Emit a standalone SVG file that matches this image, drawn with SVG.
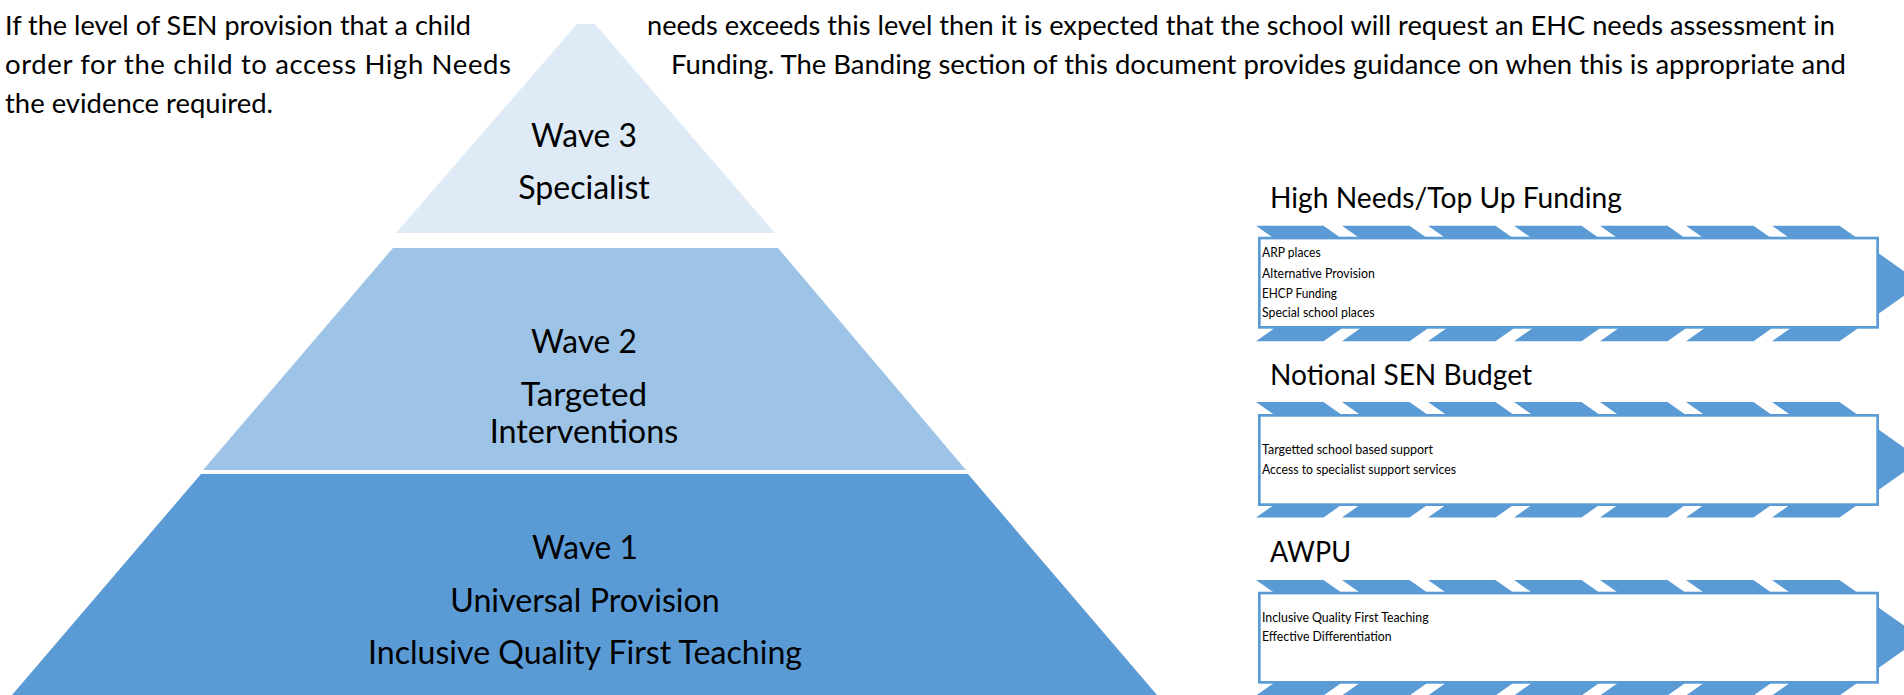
<svg xmlns="http://www.w3.org/2000/svg" xmlns:xlink="http://www.w3.org/1999/xlink" width="1904" height="695" viewBox="0 0 1904 695">
<style>
text { font-family: Lato, "Liberation Sans", sans-serif; fill: #000; }
.para { font-size: 27.5px; }
.wave { font-size: 32.3px; text-anchor: middle; }
.title { font-size: 29px; }
.item { font-size: 12.5px; }
.w3 { fill: #DEEBF7; }
.w2 { fill: #9DC3E6; }
.w1 { fill: #5B9BD5; }
.chev { fill: #5B9BD5; }
.box { fill: #FFFFFF; stroke: #5B9BD5; stroke-width: 2.7; }
</style>
<defs>
  <path id="chev" d="M0,0 h67.5 l82,57.75 l-82,57.75 h-67.5 l82,-57.75 z"/>
  <g id="stripes" class="chev">
    <use xlink:href="#chev" href="#chev" x="1256" y="0"/>
    <use xlink:href="#chev" href="#chev" x="1342" y="0"/>
    <use xlink:href="#chev" href="#chev" x="1428" y="0"/>
    <use xlink:href="#chev" href="#chev" x="1514" y="0"/>
    <use xlink:href="#chev" href="#chev" x="1600" y="0"/>
    <use xlink:href="#chev" href="#chev" x="1686" y="0"/>
    <use xlink:href="#chev" href="#chev" x="1772" y="0"/>
  </g>
</defs>
<rect width="1904" height="695" fill="#FFFFFF"/>

<g id="paragraph">
  <text class="para" x="5" y="35" textLength="466" lengthAdjust="spacingAndGlyphs">If the level of SEN provision that a child</text>
  <text class="para" x="5" y="74" textLength="506" lengthAdjust="spacing">order for the child to access High Needs</text>
  <text class="para" x="5" y="113" textLength="268" lengthAdjust="spacingAndGlyphs">the evidence required.</text>
  <text class="para" x="647" y="35" textLength="1188" lengthAdjust="spacingAndGlyphs">needs exceeds this level then it is expected that the school will request an EHC needs assessment in</text>
  <text class="para" x="671" y="74" textLength="1175" lengthAdjust="spacingAndGlyphs">Funding. The Banding section of this document provides guidance on when this is appropriate and</text>
</g>

<g id="wave3">
  <polygon class="w3" points="577,24 595,24 775,233 396,233"/>
  <text class="wave" x="584" y="147" textLength="105.8" lengthAdjust="spacingAndGlyphs">Wave 3</text>
  <text class="wave" x="584" y="199" textLength="131.6" lengthAdjust="spacingAndGlyphs">Specialist</text>
</g>

<g id="wave2">
  <polygon class="w2" points="393,248 778,248 966,470 203,470"/>
  <text class="wave" x="584" y="353" textLength="105.8" lengthAdjust="spacingAndGlyphs">Wave 2</text>
  <text class="wave" x="584" y="406" textLength="126.3" lengthAdjust="spacingAndGlyphs">Targeted</text>
  <text class="wave" x="584" y="443" textLength="188.6" lengthAdjust="spacingAndGlyphs">Interventions</text>
</g>

<g id="wave1">
  <polygon class="w1" points="201,474 968,474 1157,695 12,695"/>
  <text class="wave" x="585" y="559" textLength="105.8" lengthAdjust="spacingAndGlyphs">Wave 1</text>
  <text class="wave" x="585" y="612" textLength="269.6" lengthAdjust="spacingAndGlyphs">Universal Provision</text>
  <text class="wave" x="585" y="664" textLength="434" lengthAdjust="spacingAndGlyphs">Inclusive Quality First Teaching</text>
</g>

<g id="high-needs">
  <text class="title" x="1270" y="208" textLength="352" lengthAdjust="spacingAndGlyphs">High Needs/Top Up Funding</text>
  <use xlink:href="#stripes" href="#stripes" x="0" y="225.7"/>
  <rect class="box" x="1259.35" y="238.05" width="618.3" height="89.3"/>
  <text class="item" x="1262" y="256.5" textLength="58.7" lengthAdjust="spacingAndGlyphs">ARP places</text>
  <text class="item" x="1262" y="277.5" textLength="112.8" lengthAdjust="spacingAndGlyphs">Alternative Provision</text>
  <text class="item" x="1262" y="297.5" textLength="75" lengthAdjust="spacingAndGlyphs">EHCP Funding</text>
  <text class="item" x="1262" y="317" textLength="112.5" lengthAdjust="spacingAndGlyphs">Special school places</text>
</g>

<g id="notional-sen">
  <text class="title" x="1270" y="385" textLength="262" lengthAdjust="spacingAndGlyphs">Notional SEN Budget</text>
  <use xlink:href="#stripes" href="#stripes" x="0" y="402"/>
  <rect class="box" x="1259.35" y="415.35" width="618.3" height="89.3"/>
  <text class="item" x="1262" y="453.5" textLength="171" lengthAdjust="spacingAndGlyphs">Targetted school based support</text>
  <text class="item" x="1262" y="473.5" textLength="194" lengthAdjust="spacingAndGlyphs">Access to specialist support services</text>
</g>

<g id="awpu">
  <text class="title" x="1270" y="562" textLength="81" lengthAdjust="spacingAndGlyphs">AWPU</text>
  <use xlink:href="#stripes" href="#stripes" x="0" y="580"/>
  <rect class="box" x="1259.35" y="593.05" width="618.3" height="89.3"/>
  <text class="item" x="1262" y="622" textLength="166.6" lengthAdjust="spacingAndGlyphs">Inclusive Quality First Teaching</text>
  <text class="item" x="1262" y="641" textLength="129.6" lengthAdjust="spacingAndGlyphs">Effective Differentiation</text>
</g>

<g id="connectors"/>
</svg>
